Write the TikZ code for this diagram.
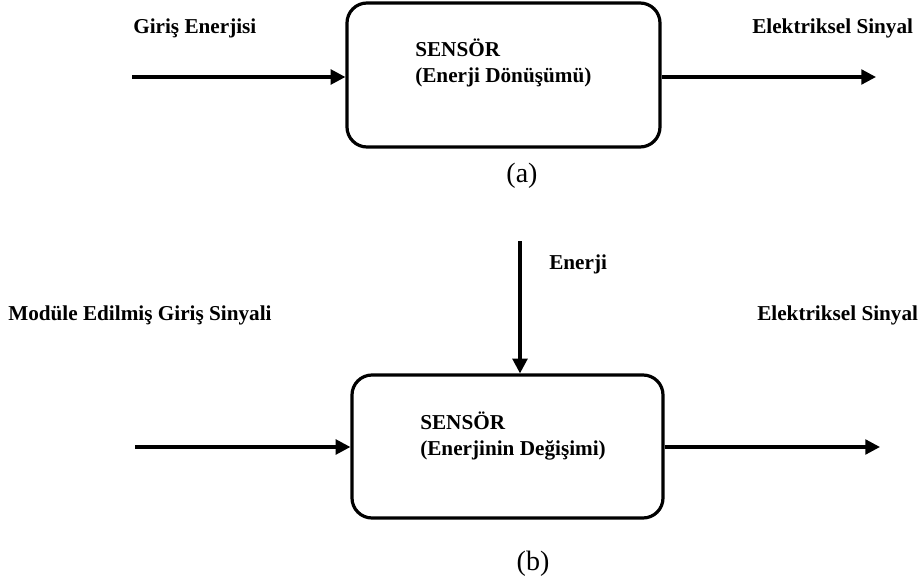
\documentclass[tikz,border=0pt]{standalone}
\usepackage{fontspec}
\setmainfont{Liberation Serif}
\usetikzlibrary{arrows.meta}
\begin{document}
\begin{tikzpicture}[x=0.75pt,y=-0.75pt,
  blockbox/.style={draw=black,line width=2.4pt,rounded corners=15pt,inner sep=0pt},
  flow/.style={draw=black,line width=2.4pt,-{Triangle[length=11pt,width=11pt]}},
  lbl/.style={font=\bfseries\fontsize{15.9}{19}\selectfont,inner sep=0pt},
  inner/.style={font=\bfseries\fontsize{15.9}{20}\selectfont,inner sep=0pt,align=left,anchor=west},
  caption/.style={font=\fontsize{21}{24}\selectfont,inner sep=0pt}]
\useasboundingbox (0,0) rectangle (921,585);

% (a) energy conversion sensor
\node[blockbox,minimum width=313*0.75pt,minimum height=144*0.75pt] (boxA) at (503.5,75) {};
\node[inner] (txtA) at (415,63) {SENSÖR\\(Enerji Dönüşümü)};
\coordinate (inA) at (132,77);
\coordinate (outA) at (876,77);
\draw[flow] (inA) -- (inA -| boxA.west);
\draw[flow] (outA -| boxA.east) -- (outA);
\node[lbl,anchor=west] (lblInA) at (133,28) {Giriş Enerjisi};
\node[lbl,anchor=west] (lblOutA) at (752,28) {Elektriksel Sinyal};
\node[caption] (capA) at (522,176) {(a)};

% (b) energy modulating sensor
\node[blockbox,minimum width=311*0.75pt,minimum height=143*0.75pt] (boxB) at (507.5,446.5) {};
\node[inner] (txtB) at (420,436) {SENSÖR\\(Enerjinin Değişimi)};
\coordinate (inB) at (135,447);
\coordinate (outB) at (880,447);
\coordinate (topB) at (520,241);
\draw[flow] (inB) -- (inB -| boxB.west);
\draw[flow] (outB -| boxB.east) -- (outB);
\draw[flow] (topB) -- (topB |- boxB.north);
\node[lbl,anchor=west] (lblEn) at (549,264) {Enerji};
\node[lbl,anchor=west] (lblInB) at (8,315) {Modüle Edilmiş Giriş Sinyali};
\node[lbl,anchor=west] (lblOutB) at (757,315) {Elektriksel Sinyal};
\node[caption] (capB) at (533,564) {(b)};
\end{tikzpicture}
\end{document}
